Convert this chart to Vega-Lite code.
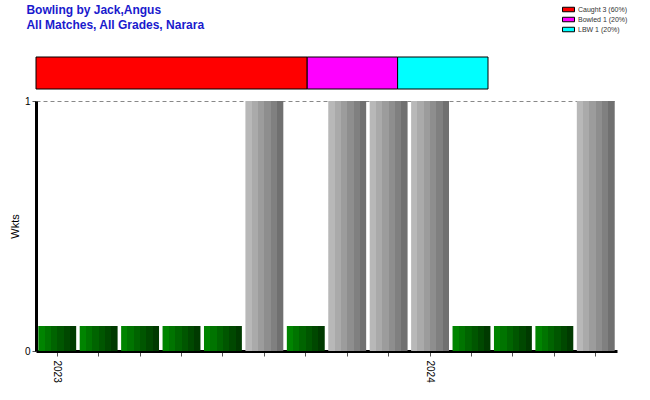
{
  "$schema": "https://vega.github.io/schema/vega-lite/v6.json",
  "background": "white",
  "padding": {"left": 9, "top": 4, "right": 0, "bottom": 0},
  "title": {
    "text": ["Bowling by Jack,Angus", "All Matches, All Grades, Narara"],
    "anchor": "start",
    "font": "Liberation Sans",
    "fontSize": 12,
    "fontWeight": "bold",
    "color": "#1a1acd",
    "lineHeight": 15,
    "offset": -28,
    "dx": 17
  },
  "config": {"view": {"stroke": null}, "font": "Liberation Sans"},
  "bounds": "flush",
  "spacing": 12,
  "vconcat": [
    {
      "width": 452,
      "height": 32,
      "data": {
        "values": [
          {"bowler": "Jack,Angus", "how": "Caught 3 (60%)", "wkts": 3, "seq": 1},
          {"bowler": "Jack,Angus", "how": "Bowled 1 (20%)", "wkts": 1, "seq": 2},
          {"bowler": "Jack,Angus", "how": "LBW 1 (20%)", "wkts": 1, "seq": 3}
        ]
      },
      "mark": {"type": "bar", "stroke": "black", "strokeWidth": 1},
      "encoding": {
        "y": {"field": "bowler", "type": "nominal", "axis": null, "scale": {"paddingInner": 0, "paddingOuter": 0}},
        "x": {"field": "wkts", "type": "quantitative", "stack": "zero", "axis": null, "scale": {"domain": [0, 5], "nice": false}},
        "color": {
          "field": "how",
          "type": "nominal",
          "sort": ["Caught 3 (60%)", "Bowled 1 (20%)", "LBW 1 (20%)"],
          "scale": {"domain": ["Caught 3 (60%)", "Bowled 1 (20%)", "LBW 1 (20%)"], "range": ["#ff0000", "#ff00ff", "#00ffff"]},
          "legend": {
            "orient": "none",
            "legendX": 527,
            "legendY": -53,
            "title": null,
            "labelFontSize": 7,
            "labelColor": "#333333",
            "labelFont": "Liberation Sans",
            "symbolType": "M-1.2,-0.45H1.2V0.45H-1.2Z",
            "symbolSize": 100,
            "symbolStrokeColor": "black",
            "symbolStrokeWidth": 1,
            "rowPadding": 0,
            "labelOffset": 4
          }
        },
        "order": {"field": "seq"}
      }
    },
    {
      "width": 581,
      "height": 250,
      "data": {
        "values": [
          {"match": 1, "wkts": 0},
          {"match": 2, "wkts": 0},
          {"match": 3, "wkts": 0},
          {"match": 4, "wkts": 0},
          {"match": 5, "wkts": 0},
          {"match": 6, "wkts": 1},
          {"match": 7, "wkts": 0},
          {"match": 8, "wkts": 1},
          {"match": 9, "wkts": 1},
          {"match": 10, "wkts": 1},
          {"match": 11, "wkts": 0},
          {"match": 12, "wkts": 0},
          {"match": 13, "wkts": 0},
          {"match": 14, "wkts": 1}
        ]
      },
      "encoding": {
        "x": {
          "field": "match",
          "type": "ordinal",
          "scale": {"paddingInner": 0.085, "paddingOuter": 0.055},
          "axis": {
            "title": null,
            "domainColor": "black",
            "domainWidth": 3,
            "tickColor": "#555555",
            "tickSize": 5,
            "labelAngle": 90,
            "labelAlign": "left",
            "labelBaseline": "middle",
            "labelFontSize": 10,
            "labelColor": "black",
            "labelPadding": 4,
            "labelExpr": "datum.value == 1 ? '2023' : datum.value == 10 ? '2024' : ''"
          }
        }
      },
      "layer": [
        {
          "transform": [{"filter": "datum.wkts == 0"}],
          "mark": {
            "type": "bar",
            "color": {
              "gradient": "linear", "x1": 0, "x2": 1, "y1": 0, "y2": 0,
              "stops": [
                {"offset": 0, "color": "#008400"}, {"offset": 0.166, "color": "#008400"},
                {"offset": 0.167, "color": "#007400"}, {"offset": 0.333, "color": "#007400"},
                {"offset": 0.334, "color": "#006400"}, {"offset": 0.5, "color": "#006400"},
                {"offset": 0.501, "color": "#005600"}, {"offset": 0.666, "color": "#005600"},
                {"offset": 0.667, "color": "#004800"}, {"offset": 0.833, "color": "#004800"},
                {"offset": 0.834, "color": "#003a00"}, {"offset": 1, "color": "#003a00"}
              ]
            }
          },
          "encoding": {
            "y": {
              "datum": 0.1,
              "type": "quantitative",
              "scale": {"domain": [0, 1], "nice": false},
              "axis": {
                "title": "Wkts",
                "values": [0, 1],
                "format": "d",
                "grid": true,
                "gridDash": [4, 3],
                "gridColor": "#888888",
                "domainColor": "black",
                "domainWidth": 3,
                "tickColor": "#555555",
                "tickSize": 4,
                "labelFontSize": 10,
                "labelColor": "black",
                "labelPadding": 2,
                "titleFontSize": 11,
                "titleFontWeight": "normal",
                "titleColor": "black",
                "titlePadding": 4
              }
            }
          }
        },
        {
          "transform": [{"filter": "datum.wkts > 0"}],
          "mark": {
            "type": "bar",
            "color": {
              "gradient": "linear", "x1": 0, "x2": 1, "y1": 0, "y2": 0,
              "stops": [
                {"offset": 0, "color": "#b8b8b8"}, {"offset": 0.166, "color": "#b8b8b8"},
                {"offset": 0.167, "color": "#aaaaaa"}, {"offset": 0.333, "color": "#aaaaaa"},
                {"offset": 0.334, "color": "#9c9c9c"}, {"offset": 0.5, "color": "#9c9c9c"},
                {"offset": 0.501, "color": "#8e8e8e"}, {"offset": 0.666, "color": "#8e8e8e"},
                {"offset": 0.667, "color": "#808080"}, {"offset": 0.833, "color": "#808080"},
                {"offset": 0.834, "color": "#707070"}, {"offset": 1, "color": "#707070"}
              ]
            }
          },
          "encoding": {
            "y": {
              "field": "wkts",
              "type": "quantitative",
              "scale": {"domain": [0, 1], "nice": false},
              "axis": {
                "title": "Wkts",
                "values": [0, 1],
                "format": "d",
                "grid": true,
                "gridDash": [4, 3],
                "gridColor": "#888888",
                "domainColor": "black",
                "domainWidth": 3,
                "tickColor": "#555555",
                "tickSize": 4,
                "labelFontSize": 10,
                "labelColor": "black",
                "labelPadding": 2,
                "titleFontSize": 11,
                "titleFontWeight": "normal",
                "titleColor": "black",
                "titlePadding": 4
              }
            }
          }
        }
      ]
    }
  ]
}
